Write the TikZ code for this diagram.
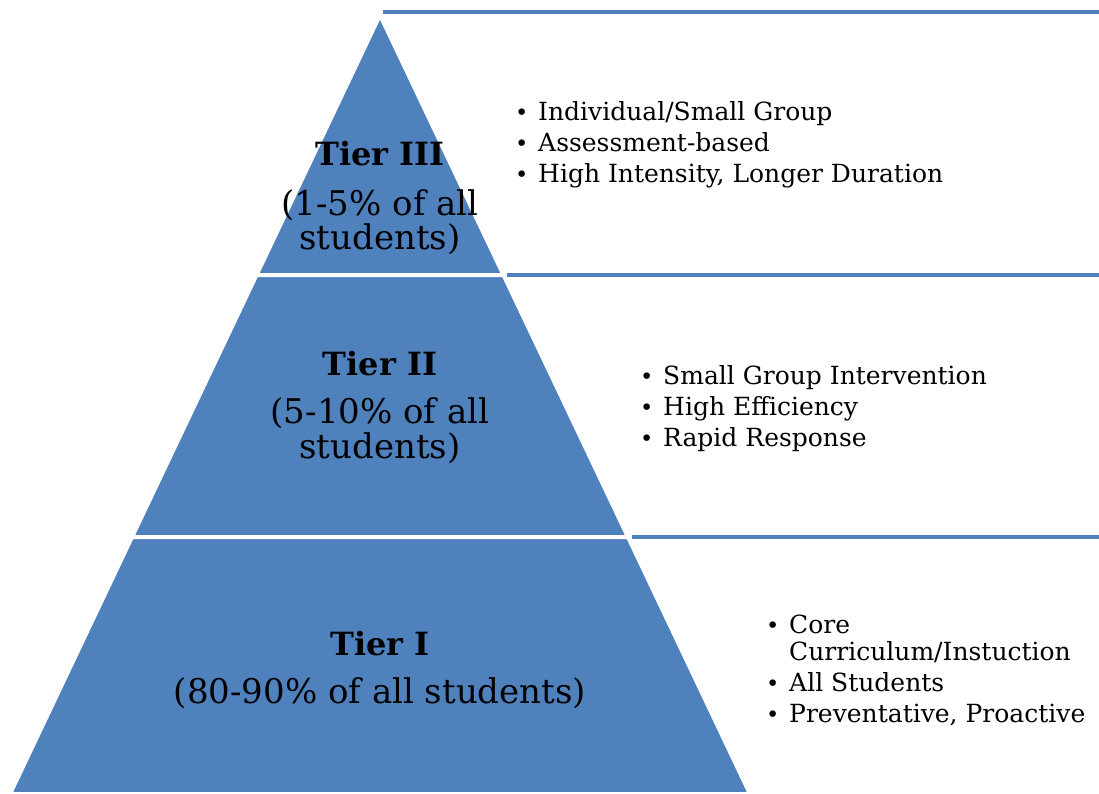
\documentclass[tikz,border=0pt]{standalone}
\usepackage{fontspec}
\setmainfont{DejaVu Serif}
\definecolor{tierblue}{HTML}{4F81BD}
\tikzset{
  tier/.style={fill=tierblue, draw=white, line width=4pt, line join=miter},
  rule/.style={draw=tierblue, line width=3.5pt},
  tiertitle/.style={font=\fontsize{32}{36}\selectfont\bfseries, inner sep=0pt, anchor=base},
  tiersub/.style={font=\fontsize{34}{38}\selectfont, inner sep=0pt, anchor=base},
  bullets/.style={font=\fontsize{25}{31}\selectfont, inner sep=0pt, anchor=north west, align=left}
}
\newcommand{\bul}{\makebox[23pt][l]{\scalebox{0.9}{\textbullet}}}
\begin{document}
\begin{tikzpicture}[x=1pt,y=-1pt]
\useasboundingbox (0,0) rectangle (1099,794);
% pyramid corners
\coordinate (apex) at (380,15);
\coordinate (l3) at (256.5,275); \coordinate (r3) at (503.5,275);
\coordinate (l2) at (132,537);   \coordinate (r2) at (628,537);
\coordinate (l1) at (10,794);    \coordinate (r1) at (750,794);
\path[tier] (apex) -- (r3) -- (l3) -- cycle;
\path[tier] (l3) -- (r3) -- (r2) -- (l2) -- cycle;
\path[tier] (l2) -- (r2) -- (r1) -- (l1) -- cycle;
% horizontal rules
\coordinate (t0) at (383,12);  \coordinate (t1) at (1099,12);
\coordinate (m0) at (507,275); \coordinate (m1) at (1099,275);
\coordinate (b0) at (632,537); \coordinate (b1) at (1099,537);
\draw[rule] (t0) -- (t1);
\draw[rule] (m0) -- (m1);
\draw[rule] (b0) -- (b1);
% tier labels
\node[tiertitle] (t3title) at (380,166) {Tier III};
\node[tiersub] (t3sub) at (380,216) {(1-5\% of all};
\node[tiersub] (t3sub2) at (380,249) {students)};
\node[tiertitle] (t2title) at (380,375) {Tier II};
\node[tiersub] (t2sub) at (380,423) {(5-10\% of all};
\node[tiersub] (t2sub2) at (380,458) {students)};
\node[tiertitle] (t1title) at (380,655) {Tier I};
\node[tiersub] (t1sub) at (380,703) {(80-90\% of all students)};
% bullet lists
\node[bullets] (l3list) at (515,101) {\bul Individual/Small Group\\\bul Assessment-based\\\bul High Intensity, Longer Duration};
\node[bullets] (l2list) at (640,365) {\bul Small Group Intervention\\\bul High Efficiency\\\bul Rapid Response};
\node[bullets] (l1list) at (766,615) {\bul Core\\[-4pt]\hspace*{23pt}Curriculum/Instuction\\\bul All Students\\\bul Preventative, Proactive};
\end{tikzpicture}
\end{document}
